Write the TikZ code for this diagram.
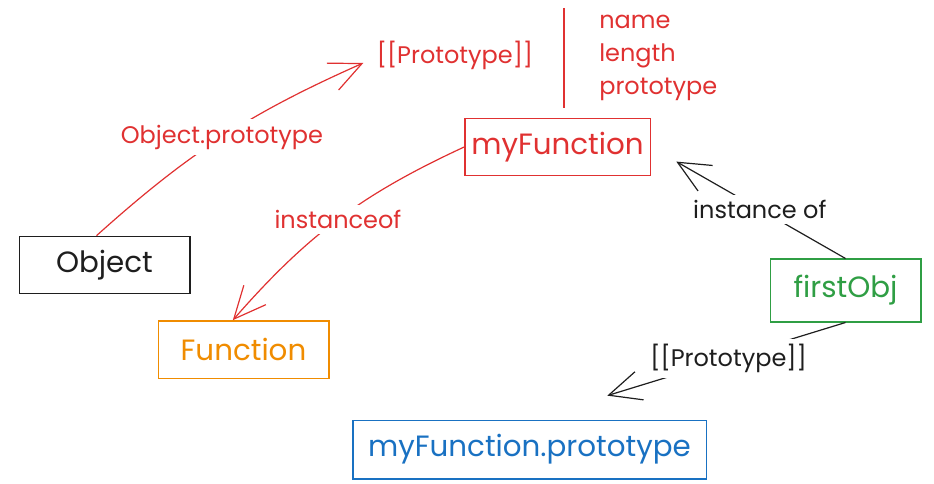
\documentclass[tikz,border=0pt]{standalone}
\usepackage{fontspec}
\setmainfont{Poppins}
\usetikzlibrary{arrows.meta}

\definecolor{exblack}{HTML}{1E1E1E}
\definecolor{exred}{HTML}{E03131}
\definecolor{exorange}{HTML}{F08C00}
\definecolor{exgreen}{HTML}{2F9E44}
\definecolor{exblue}{HTML}{1971C2}

\begin{document}
\begin{tikzpicture}[
    x=0.75pt, y=-0.75pt,
    objbox/.style={
        draw,
        line width=1pt,
        minimum height=43pt,
        inner sep=0pt,
        font=\fontsize{22}{26}\selectfont
    },
    arrowlabel/.style={
        fill=white,
        inner sep=4pt,
        font=\fontsize{18}{21}\selectfont
    },
    link/.style={
        -{Straight Barb[length=24pt, width=22pt]},
        line width=0.9pt
    },
    proplist/.style={
        align=left,
        inner sep=0pt,
        text=exred,
        font=\fontsize{18}{24.75}\selectfont
    }
]
\useasboundingbox (0,0) rectangle (934,484);

% --- Boxes ----------------------------------------------------------------
\node[objbox, draw=exblack, text=exblack, minimum width=128pt]
    (object) at (104.5,265) {Object};
\node[objbox, draw=exorange, text=exorange, minimum width=128pt]
    (function) at (243.5,349.5) {Function};
\node[objbox, draw=exred, text=exred, minimum width=139pt]
    (myfunc) at (557.5,147) {myFunction};
\node[objbox, draw=exgreen, text=exgreen, minimum width=113pt,
      minimum height=47pt]
    (firstobj) at (845.5,290.5) {firstObj};
\node[objbox, draw=exblue, text=exblue, minimum width=265pt,
      minimum height=44pt]
    (myproto) at (529.5,449.5) {myFunction.prototype};

% --- Prototype slot and own properties of myFunction ----------------------
\node[arrowlabel, fill=none, text=exred] (protoslot) at (455,55) {[[Prototype]]};
\node[proplist, anchor=west] (props) at (599,58) {name\\length\\prototype};
\draw[exred, line width=0.9pt] (564,8) -- (564,108);

% --- Red links ------------------------------------------------------------
\draw[link, exred]
    ([xshift=-6pt]object.north) to[bend left=9]
    node[arrowlabel, text=exred] {Object.prototype}
    ([xshift=-6pt, yshift=-6pt]protoslot.west);
\draw[link, exred]
    (myfunc.west) to[bend right=12]
    node[arrowlabel, text=exred] {instanceof}
    ([xshift=-8pt]function.north);

% --- Black links from firstObj --------------------------------------------
\draw[link, exblack, shorten >=22pt]
    (firstobj.north) --
    node[arrowlabel, text=exblack, pos=0.44] {instance of}
    (myfunc.east);
\draw[link, exblack, shorten >=61pt]
    (firstobj.south) --
    node[arrowlabel, text=exblack, pos=0.37] {[[Prototype]]}
    (myproto.north);

\end{tikzpicture}
\end{document}
